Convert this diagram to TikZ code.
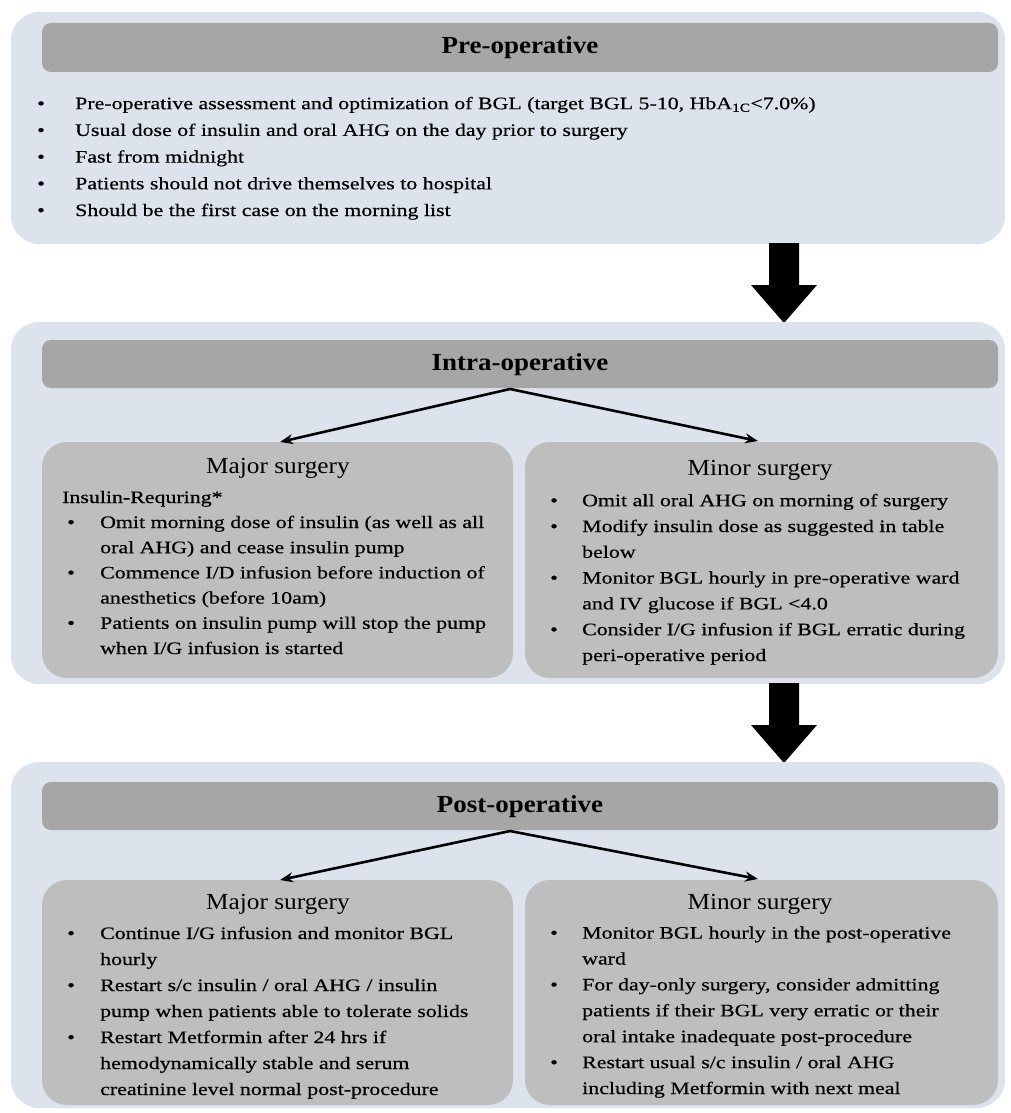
\documentclass[tikz,border=0pt]{standalone}
\usepackage{fontspec}
\setmainfont{Liberation Serif}
\newfontfamily\listfont[FakeStretch=1.25,FakeBold=0.5]{Liberation Serif}
\newfontfamily\titlefont[FakeStretch=1.1]{Liberation Serif}
\usetikzlibrary{arrows.meta}
\definecolor{panel}{HTML}{DDE3EC}
\definecolor{head}{HTML}{A6A6A6}
\definecolor{sub}{HTML}{BEBEBE}
\newcommand{\bul}[1]{\makebox[#1][l]{\textbullet}}
\begin{document}
\begin{tikzpicture}[x=1pt,y=-1pt,
  panelbox/.style={fill=panel,draw=none,rounded corners=28pt},
  headbox/.style={fill=head,draw=none,rounded corners=9pt},
  subbox/.style={fill=sub,draw=none,rounded corners=25pt},
  headtxt/.style={font=\titlefont\fontsize{24.5}{28}\selectfont\bfseries,inner sep=0pt},
  subtitle/.style={font=\titlefont\fontsize{23}{27}\selectfont,inner sep=0pt},
  listtxt/.style={font=\listfont\fontsize{17.5}{26}\selectfont,align=left,inner sep=0pt,anchor=base west},
  thinarrow/.style={-{Stealth[length=13pt,width=10pt]},line width=2.6pt},
  blockarrow/.style={fill=black}]
\useasboundingbox (0,0) rectangle (1011,1113);
\fill[white] (0,0) rectangle (1011,1113);
% ---------- Pre-operative
\path[panelbox] (11,12) rectangle (1005,244);
\path[headbox] (42,23) rectangle (998,72);
\node[headtxt] (prehead) at (520,48) {Pre-operative};
\node[listtxt,font=\listfont\fontsize{17.5}{26.7}\selectfont] (prelist) at (37,216) {%
\bul{38pt}Pre-operative assessment and optimization of BGL (target BGL 5-10, HbA\textsubscript{1C}<7.0\%)\\
\bul{38pt}Usual dose of insulin and oral AHG on the day prior to surgery\\
\bul{38pt}Fast from midnight\\
\bul{38pt}Patients should not drive themselves to hospital\\
\bul{38pt}Should be the first case on the morning list};
% ---------- arrow 1
\coordinate (a1e) at (784,323);
\fill[blockarrow] (769,243) -- (799,243) -- (799,285) -- (817,285) -- (a1e) -- (751,285) -- (769,285) -- cycle;
% ---------- Intra-operative
\path[panelbox] (11,322) rectangle (1005,684);
\path[headbox] (42,340) rectangle (998,388);
\node[headtxt] (intrahead) at (520,365) {Intra-operative};
\path[subbox] (42,442) rectangle (513,678);
\path[subbox] (525,442) rectangle (998,678);
\coordinate (imaj) at (280,442);
\coordinate (imin) at (758,441);
\coordinate (isrc) at (510,389);
\draw[thinarrow] (isrc) -- (imaj);
\draw[thinarrow] (isrc) -- (imin);
\node[subtitle] (imajt) at (278,468) {Major surgery};
\node[listtxt] (imajr) at (62,503) {Insulin-Requring*};
\node[listtxt,font=\listfont\fontsize{17.5}{25.2}\selectfont] (imajl) at (67,654) {%
\bul{33pt}Omit morning dose of insulin (as well as all\\
\hspace*{33pt}oral AHG) and cease insulin pump\\
\bul{33pt}Commence I/D infusion before induction of\\
\hspace*{33pt}anesthetics (before 10am)\\
\bul{33pt}Patients on insulin pump will stop the pump\\
\hspace*{33pt}when I/G infusion is started};
\node[subtitle] (imint) at (760,470) {Minor surgery};
\node[listtxt,font=\listfont\fontsize{17.5}{25.8}\selectfont] (iminl) at (550,661) {%
\bul{32pt}Omit all oral AHG on morning of surgery\\
\bul{32pt}Modify insulin dose as suggested in table\\
\hspace*{32pt}below\\
\bul{32pt}Monitor BGL hourly in pre-operative ward\\
\hspace*{32pt}and IV glucose if BGL <4.0\\
\bul{32pt}Consider I/G infusion if BGL erratic during\\
\hspace*{32pt}peri-operative period};
% ---------- arrow 2
\coordinate (a2e) at (784,763);
\fill[blockarrow] (769,683) -- (799,683) -- (799,725) -- (817,725) -- (a2e) -- (751,725) -- (769,725) -- cycle;
% ---------- Post-operative
\path[panelbox] (11,762) rectangle (1005,1108);
\path[headbox] (42,782) rectangle (998,830);
\node[headtxt] (posthead) at (520,807) {Post-operative};
\path[subbox] (42,880) rectangle (513,1105);
\path[subbox] (525,880) rectangle (998,1105);
\coordinate (pmaj) at (280,880);
\coordinate (pmin) at (758,879);
\coordinate (psrc) at (510,831);
\draw[thinarrow] (psrc) -- (pmaj);
\draw[thinarrow] (psrc) -- (pmin);
\node[subtitle] (pmajt) at (278,904) {Major surgery};
\node[listtxt,font=\listfont\fontsize{17.5}{26}\selectfont] (pmajl) at (67,1095) {%
\bul{33pt}Continue I/G infusion and monitor BGL\\
\hspace*{33pt}hourly\\
\bul{33pt}Restart s/c insulin / oral AHG / insulin\\
\hspace*{33pt}pump when patients able to tolerate solids\\
\bul{33pt}Restart Metformin after 24 hrs if\\
\hspace*{33pt}hemodynamically stable and serum\\
\hspace*{33pt}creatinine level normal post-procedure};
\node[subtitle] (pmint) at (760,904) {Minor surgery};
\node[listtxt,font=\listfont\fontsize{17.5}{25.9}\selectfont] (pminl) at (550,1094) {%
\bul{32pt}Monitor BGL hourly in the post-operative\\
\hspace*{32pt}ward\\
\bul{32pt}For day-only surgery, consider admitting\\
\hspace*{32pt}patients if their BGL very erratic or their\\
\hspace*{32pt}oral intake inadequate post-procedure\\
\bul{32pt}Restart usual s/c insulin / oral AHG\\
\hspace*{32pt}including Metformin with next meal};
\end{tikzpicture}
\end{document}
